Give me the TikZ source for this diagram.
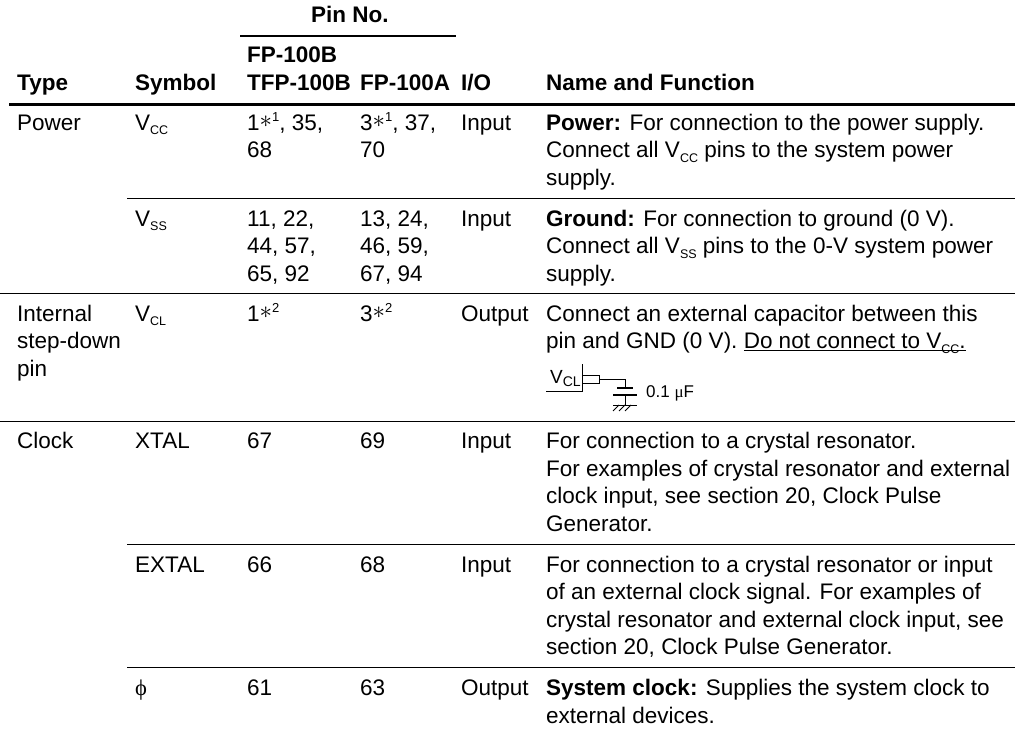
\documentclass[tikz,border=0pt]{standalone}
\usepackage{fontspec}
\setmainfont{Liberation Sans}
\newfontfamily\symfont{Liberation Serif}
\newcommand{\Vsub}[1]{V\raisebox{-4.5pt}{\fontsize{12.5}{12.5}\selectfont #1}}
\newcommand{\Note}[1]{\raisebox{3pt}{\fontsize{26}{26}\selectfont$\ast$}\raisebox{9pt}{\fontsize{13}{13}\selectfont #1}}
\tikzset{
  cell/.style={anchor=base west,inner sep=0pt,align=left,font=\fontsize{22.5}{27.6}\selectfont},
  head/.style={cell,font=\fontsize{22.5}{27.6}\selectfont\bfseries},
  thick rule/.style={line width=2.6pt},
  thin rule/.style={line width=0.9pt},
  wire/.style={line width=0.8pt}
}
\begin{document}
\begin{tikzpicture}[x=1pt,y=-1pt]
        \useasboundingbox (0,0) rectangle (1016,734);
        \node[head] (pinno) at (311,22.7) {Pin No.};
        \node[head] (fp) at (247,62.7) {FP-100B};
        \node[head] (type) at (17,90) {Type};
        \node[head] (symbol) at (135,90) {Symbol};
        \node[head] (tfp) at (247,90) {TFP-100B};
        \node[head] (fpa) at (360,90) {FP-100A};
        \node[head] (io) at (461,90) {I/O};
        \node[head] (name) at (546,90) {Name and Function};
        \draw[line width=2.3pt] (240,36) -- (456,36);
        \draw[thick rule] (9,104.5) -- (1015,104.5);

        \node[cell] (power) at (17,130) {Power};
        \node[cell] (vcc) at (135,130) {\Vsub{CC}};
        \node[cell] (vccb) at (247,157.6) {1\Note{1}, 35,\\68};
        \node[cell] (vcca) at (360,157.6) {3\Note{1}, 37,\\70};
        \node[cell] (vccio) at (461,130) {Input};
        \node[cell] (vccfn) at (546,185.2) {\textbf{Power:} For connection to the power supply.\\Connect all \Vsub{CC} pins to the system power\\supply.};
        \draw[thin rule] (127,198) -- (1015,198);

        \node[cell] (vss) at (135,226) {\Vsub{SS}};
        \node[cell] (vssb) at (247,281.2) {11, 22,\\44, 57,\\65, 92};
        \node[cell] (vssa) at (360,281.2) {13, 24,\\46, 59,\\67, 94};
        \node[cell] (vssio) at (461,226) {Input};
        \node[cell] (vssfn) at (546,281.2) {\textbf{Ground:} For connection to ground (0 V).\\Connect all \Vsub{SS} pins to the 0-V system power\\supply.};
        \draw[thin rule] (0,293.7) -- (1015,293.7);

        \node[cell] (internal) at (17,376.2) {Internal\\step-down\\pin};
        \node[cell] (vcl) at (135,321) {\Vsub{CL}};
        \node[cell] (vclb) at (247,321) {1\Note{2}};
        \node[cell] (vcla) at (360,321) {3\Note{2}};
        \node[cell] (vclio) at (461,321) {Output};
        \node[cell] (vclfn) at (546,348.6) {Connect an external capacitor between this\\pin and GND (0 V). \underline{Do not connect to \smash{\Vsub{CC}}.}};
        \node[cell,font=\fontsize{19}{20}\selectfont] (vclpin) at (550,383) {V\raisebox{-3.5pt}{\fontsize{14}{14}\selectfont CL}};
        \node[cell,font=\fontsize{17}{18}\selectfont] (cap) at (646,397) {0.1 {\symfont μ}F};
        \draw[wire] (546,391) -- (582,391) -- (582,364);
        \draw[wire] (582,375) rectangle (599,383);
        \draw[wire] (599,379) -- (625,379) -- (625,388);
        \draw[line width=1.8pt] (617,388) -- (633,388);
        \draw[line width=2pt] (613,395) -- (637,395);
        \draw[wire] (625,395) -- (625,405);
        \draw[wire] (613,405) -- (637,405);
        \draw[wire] (619,405) -- (613,411);
        \draw[wire] (625,405) -- (619,411);
        \draw[wire] (631,405) -- (625,411);
        \draw[thin rule] (0,421) -- (1015,421);

        \node[cell] (clock) at (17,448.5) {Clock};
        \node[cell] (xtal) at (135,448.5) {XTAL};
        \node[cell] (xtalb) at (247,448.5) {67};
        \node[cell] (xtala) at (360,448.5) {69};
        \node[cell] (xtalio) at (461,448.5) {Input};
        \node[cell] (xtalfn) at (546,531.3) {For connection to a crystal resonator.\\For examples of crystal resonator and external\\clock input, see section 20, Clock Pulse\\Generator.};
        \draw[thin rule] (127,544.3) -- (1015,544.3);

        \node[cell] (extal) at (135,572) {EXTAL};
        \node[cell] (extalb) at (247,572) {66};
        \node[cell] (extala) at (360,572) {68};
        \node[cell] (extalio) at (461,572) {Input};
        \node[cell] (extalfn) at (546,654.8) {For connection to a crystal resonator or input\\of an external clock signal. For examples of\\crystal resonator and external clock input, see\\section 20, Clock Pulse Generator.};
        \draw[thin rule] (127,667.3) -- (1015,667.3);

        \node[cell] (phi) at (135,695.5) {{\symfont ϕ}};
        \node[cell] (phib) at (247,695.5) {61};
        \node[cell] (phia) at (360,695.5) {63};
        \node[cell] (phiio) at (461,695.5) {Output};
        \node[cell] (phifn) at (546,723.1) {\textbf{System clock:} Supplies the system clock to\\external devices.};
      \end{tikzpicture}
\end{document}
